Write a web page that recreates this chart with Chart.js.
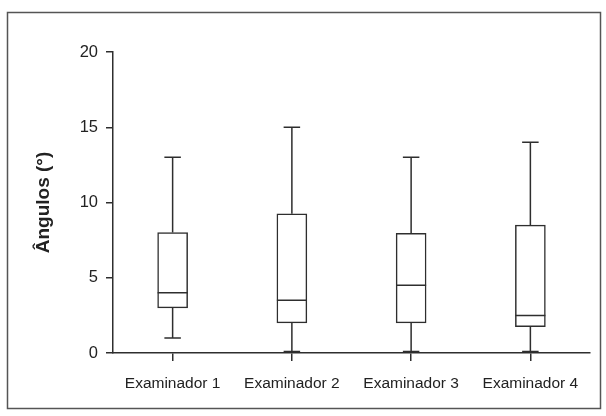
<!DOCTYPE html>
<html>
<head>
<meta charset="utf-8">
<script src="https://cdn.jsdelivr.net/npm/chart.js@4/dist/chart.umd.min.js"></script>
<style>
  html, body { margin: 0; padding: 0; background: #ffffff; }
  #wrap { width: 606px; height: 416px; position: relative; }
</style>
</head>
<body>
<div id="wrap"><canvas id="c" width="606" height="416"></canvas></div>
<script>
const categories = ['Examinador 1', 'Examinador 2', 'Examinador 3', 'Examinador 4'];
const minVals    = [1, 0.1, 0.1, 0.1];
const q1Vals     = [3, 2, 2, 1.75];
const medianVals = [4, 3.5, 4.5, 2.5];
const q3Vals     = [8, 9.25, 7.95, 8.5];
const maxVals    = [13, 15, 13, 14];
const yMin = 0, yMax = 20, yStep = 5;
const yTitle = 'Ângulos (°)';

const ink = '#2e2e2e';
const fam = "'Liberation Sans Narrow', 'Liberation Sans', Arial, sans-serif";

const framePlugin = {
  id: 'frame',
  beforeDraw(chart) {
    const ctx = chart.ctx;
    ctx.save();
    ctx.strokeStyle = '#555555';
    ctx.lineWidth = 1.5;
    ctx.strokeRect(7.5, 12.5, 593, 396);
    ctx.restore();
  }
};

const whiskerPlugin = {
  id: 'whiskers',
  afterDatasetsDraw(chart) {
    const ctx = chart.ctx;
    const xs = chart.scales.x, ys = chart.scales.y;
    const meta = chart.getDatasetMeta(0);
    ctx.save();
    ctx.strokeStyle = ink;
    ctx.lineWidth = 1.5;
    categories.forEach((c, i) => {
      const cx = xs.getPixelForValue(i);
      const bw = meta.data[i].width;
      const capW = bw * 0.55;
      const yMinP = ys.getPixelForValue(minVals[i]);
      const yQ1 = ys.getPixelForValue(q1Vals[i]);
      const yMed = ys.getPixelForValue(medianVals[i]);
      const yQ3 = ys.getPixelForValue(q3Vals[i]);
      const yMaxP = ys.getPixelForValue(maxVals[i]);
      ctx.beginPath();
      ctx.moveTo(cx, yQ3); ctx.lineTo(cx, yMaxP);
      ctx.moveTo(cx - capW / 2, yMaxP); ctx.lineTo(cx + capW / 2, yMaxP);
      ctx.moveTo(cx, yQ1); ctx.lineTo(cx, yMinP);
      ctx.moveTo(cx - capW / 2, yMinP); ctx.lineTo(cx + capW / 2, yMinP);
      ctx.moveTo(cx - bw / 2, yMed); ctx.lineTo(cx + bw / 2, yMed);
      ctx.stroke();
    });
    ctx.restore();
  }
};

new Chart(document.getElementById('c'), {
  type: 'bar',
  data: {
    labels: categories,
    datasets: [{
      data: categories.map((c, i) => [q1Vals[i], q3Vals[i]]),
      backgroundColor: '#ffffff',
      borderColor: ink,
      borderWidth: 1.5,
      borderSkipped: false,
      barThickness: 30
    }]
  },
  options: {
    responsive: false,
    animation: false,
    layout: { padding: { left: 28, right: 16, top: 52, bottom: 0 } },
    plugins: { legend: { display: false }, tooltip: { enabled: false } },
    scales: {
      x: {
        grid: { display: true, offset: false, drawOnChartArea: false, drawTicks: true, tickLength: 8, color: ink, lineWidth: 1.5 },
        border: { display: true, color: ink, width: 1.5 },
        ticks: { color: '#222222', font: { family: fam, size: 15.5 }, padding: 13, maxRotation: 0 },
        afterFit(scale) { scale.height = 63; }
      },
      y: {
        min: yMin, max: yMax,
        grid: { display: true, drawOnChartArea: false, drawTicks: true, tickLength: 7, color: ink, lineWidth: 1.5 },
        border: { display: true, color: ink, width: 1.5 },
        ticks: { stepSize: yStep, color: '#222222', font: { family: fam, size: 16.5 }, padding: 8 },
        title: { display: true, text: yTitle, color: '#222222', padding: { top: 4, bottom: 4 },
                 font: { family: "'Liberation Sans', Arial, sans-serif", size: 19, weight: 'bold' } },
        afterFit(scale) { scale.width = 85; }
      }
    }
  },
  plugins: [framePlugin, whiskerPlugin]
});
</script>
</body>
</html>
